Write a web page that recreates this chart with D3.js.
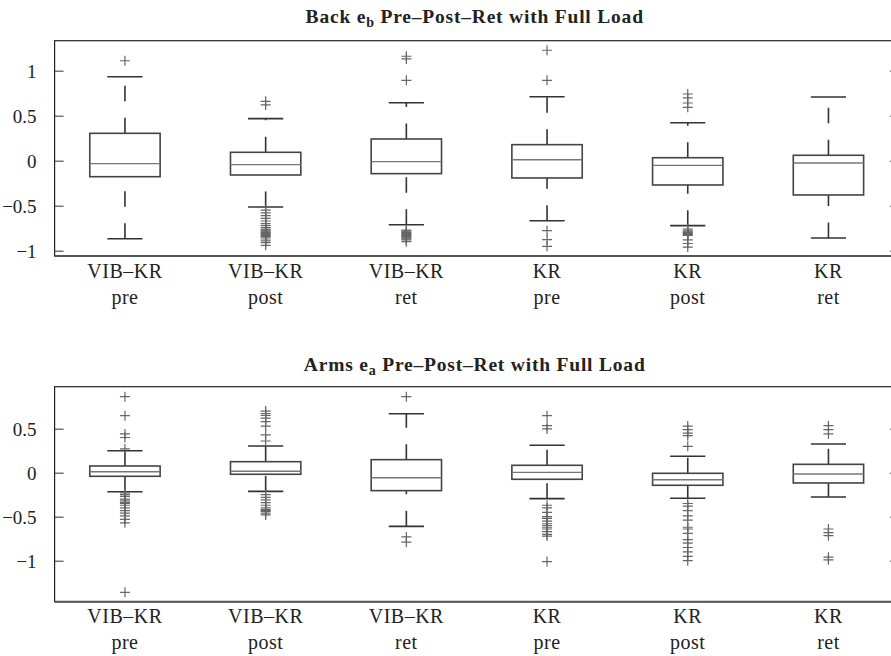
<!DOCTYPE html>
<html>
<head>
<meta charset="utf-8">
<script src="https://cdn.jsdelivr.net/npm/d3@7"></script>
<style>
  html, body { margin: 0; padding: 0; background: #fff; }
  svg { display: block; }
  text { font-family: "Liberation Serif", "Times New Roman", serif; fill: #222; }
</style>
</head>
<body>
<svg id="chart" width="891" height="656"></svg>
<script>
// ---------- data ----------
const groupsLine1 = ["VIB–KR", "VIB–KR", "VIB–KR", "KR", "KR", "KR"];
const groupsLine2 = ["pre", "post", "ret", "pre", "post", "ret"];

// Back e_b
const backTicks = [-1, -0.5, 0, 0.5, 1];
const backTickLabels = ["−1", "−0.5", "0", "0.5", "1"];
const backLowWhisker = [-0.867, -0.514, -0.711, -0.667, -0.722, -0.859];
const backQ1 = [-0.178, -0.159, -0.144, -0.192, -0.270, -0.381];
const backMedian = [-0.033, -0.044, -0.011, 0.011, -0.052, -0.026];
const backQ3 = [0.304, 0.093, 0.241, 0.178, 0.033, 0.060];
const backHighWhisker = [0.933, 0.467, 0.644, 0.711, 0.422, 0.708];
const backOutliers = [
  [1.11],
  [0.66, 0.62, -0.55, -0.58, -0.61, -0.64, -0.67, -0.70, -0.72, -0.74, -0.76, -0.77, -0.78, -0.79, -0.80, -0.81, -0.82, -0.83, -0.84, -0.85, -0.87, -0.89, -0.91, -0.94],
  [1.16, 1.13, 0.893, -0.77, -0.78, -0.79, -0.80, -0.81, -0.82, -0.83, -0.84, -0.85, -0.86, -0.87, -0.88, -0.90],
  [1.227, 0.893, -0.778, -0.878, -0.951],
  [0.741, 0.697, 0.641, 0.593, -0.76, -0.78, -0.79, -0.80, -0.81, -0.82, -0.83, -0.88, -0.92, -0.96],
  []
];

// Arms e_a
const armsTicks = [-1, -0.5, 0, 0.5];
const armsTickLabels = ["−1", "−0.5", "0", "0.5"];
const armsLowWhisker = [-0.216, -0.212, -0.610, -0.295, -0.291, -0.276];
const armsQ1 = [-0.041, -0.018, -0.204, -0.075, -0.143, -0.117];
const armsMedian = [0.011, 0.016, -0.057, 0.004, -0.080, -0.015];
const armsQ3 = [0.076, 0.125, 0.148, 0.084, -0.007, 0.095];
const armsHighWhisker = [0.250, 0.303, 0.670, 0.311, 0.186, 0.326];
const armsOutliers = [
  [0.864, 0.648, 0.44, 0.40, 0.27, -0.23, -0.25, -0.27, -0.30, -0.32, -0.34, -0.35, -0.37, -0.40, -0.43, -0.46, -0.49, -0.53, -0.57, -1.36],
  [0.70, 0.67, 0.65, 0.62, 0.58, 0.53, 0.43, 0.36, -0.25, -0.28, -0.31, -0.34, -0.37, -0.40, -0.42, -0.43, -0.44, -0.46, -0.48],
  [0.864, -0.73, -0.79],
  [0.648, 0.534, 0.497, -0.37, -0.40, -0.45, -0.50, -0.52, -0.55, -0.58, -0.60, -0.62, -0.64, -0.67, -0.70, -0.72, -1.01],
  [0.53, 0.49, 0.45, 0.42, 0.30, -0.35, -0.38, -0.43, -0.49, -0.54, -0.62, -0.64, -0.69, -0.76, -0.80, -0.85, -0.90, -0.95, -1.00],
  [0.534, 0.489, 0.44, -0.64, -0.68, -0.716, -0.96, -0.99]
];

// ---------- drawing ----------
const svg = d3.select("#chart");
const left = 54.6, right = 898.8;
const x = d3.scaleLinear().domain([0.5, 6.5]).range([left, right]);
const unit = x(2) - x(1);

function panel(cfg) {
  const y = d3.scaleLinear().domain(cfg.domain).range([cfg.bottom, cfg.top]);
  const g = svg.append("g");

  // title
  const t = g.append("text")
    .attr("x", (left + right) / 2 - 2)
    .attr("y", cfg.titleY)
    .attr("text-anchor", "middle")
    .style("font-size", "19.5px")
    .style("letter-spacing", "0.8px")
    .style("font-weight", "bold");
  t.append("tspan").text(cfg.titleA);
  t.append("tspan").text(cfg.titleSub).attr("dy", 4).style("font-size", "14px");
  t.append("tspan").text(cfg.titleB).attr("dy", -4);

  // axes box
  g.append("rect")
    .attr("x", left).attr("y", cfg.top)
    .attr("width", right - left).attr("height", cfg.bottom - cfg.top)
    .attr("fill", "none").attr("stroke", "#222").attr("stroke-width", 1.2);
  g.append("line")
    .attr("x1", left).attr("x2", right)
    .attr("y1", cfg.bottom).attr("y2", cfg.bottom)
    .attr("stroke", "#555").attr("stroke-width", 2);

  // y axis (ticks inward) left and right
  const yAxisL = d3.axisLeft(y).tickValues(cfg.ticks)
    .tickFormat((d, i) => cfg.tickLabels[i]).tickSizeInner(-9).tickSizeOuter(0).tickPadding(18);
  const ga = g.append("g").attr("transform", `translate(${left},0)`).call(yAxisL);
  ga.select(".domain").remove();
  ga.selectAll(".tick line").attr("stroke", "#333");
  ga.selectAll(".tick text").style("font-size", "19px").style("font-family", '"Liberation Serif", serif').attr("fill", "#222").attr("dy", "0.35em");

  const yAxisR = d3.axisRight(y).tickValues(cfg.ticks).tickFormat("").tickSizeInner(-9).tickSizeOuter(0);
  const gr = g.append("g").attr("transform", `translate(${right},0)`).call(yAxisR);
  gr.select(".domain").remove();
  gr.selectAll(".tick line").attr("stroke", "#555");

  // x labels
  groupsLine1.forEach((lab, i) => {
    const tx = g.append("text")
      .attr("x", x(i + 1)).attr("y", cfg.bottom + 21.5)
      .attr("text-anchor", "middle").style("font-size", "20px").style("letter-spacing", "0.5px");
    tx.append("tspan").attr("x", x(i + 1)).text(lab);
    tx.append("tspan").attr("x", x(i + 1)).attr("dy", 26).text(groupsLine2[i]);
  });

  const hw = unit * 0.25, cw = unit * 0.125;
  const boxes = g.append("g");
  for (let i = 0; i < 6; i++) {
    const cx = x(i + 1);
    // whiskers (dashed, drawn from lower point upward)
    boxes.append("line").attr("x1", cx).attr("x2", cx)
      .attr("y1", y(cfg.q3[i])).attr("y2", y(cfg.hi[i]))
      .attr("stroke", "#333").attr("stroke-width", 1.6).attr("stroke-dasharray", "15.5,16.5");
    boxes.append("line").attr("x1", cx).attr("x2", cx)
      .attr("y1", y(cfg.lo[i])).attr("y2", y(cfg.q1[i]))
      .attr("stroke", "#333").attr("stroke-width", 1.6).attr("stroke-dasharray", "15.5,16.5");
    // caps
    [cfg.hi[i], cfg.lo[i]].forEach(v => {
      boxes.append("line").attr("x1", cx - cw).attr("x2", cx + cw)
        .attr("y1", y(v)).attr("y2", y(v))
        .attr("stroke", "#333").attr("stroke-width", 1.6);
    });
    // box
    boxes.append("rect").attr("x", cx - hw).attr("width", 2 * hw)
      .attr("y", y(cfg.q3[i])).attr("height", y(cfg.q1[i]) - y(cfg.q3[i]))
      .attr("fill", "none").attr("stroke", "#444").attr("stroke-width", 1.6);
    // median
    boxes.append("line").attr("x1", cx - hw).attr("x2", cx + hw)
      .attr("y1", y(cfg.med[i])).attr("y2", y(cfg.med[i]))
      .attr("stroke", "#777").attr("stroke-width", 1.4);
    // outliers
    cfg.out[i].forEach(v => {
      const py = y(v);
      boxes.append("path")
        .attr("d", `M${cx - 5},${py}H${cx + 5}M${cx},${py - 5}V${py + 5}`)
        .attr("stroke", "#666").attr("stroke-width", 1.2).attr("fill", "none");
    });
  }
}

panel({
  top: 40.7, bottom: 256, domain: [-1.059, 1.333], titleY: 23,
  titleA: "Back e", titleSub: "b", titleB: " Pre–Post–Ret with Full Load",
  ticks: backTicks, tickLabels: backTickLabels,
  lo: backLowWhisker, q1: backQ1, med: backMedian, q3: backQ3, hi: backHighWhisker, out: backOutliers
});
panel({
  top: 386.7, bottom: 601.7, domain: [-1.466, 0.977], titleY: 371,
  titleA: "Arms e", titleSub: "a", titleB: " Pre–Post–Ret with Full Load",
  ticks: armsTicks, tickLabels: armsTickLabels,
  lo: armsLowWhisker, q1: armsQ1, med: armsMedian, q3: armsQ3, hi: armsHighWhisker, out: armsOutliers
});
</script>
</body>
</html>
